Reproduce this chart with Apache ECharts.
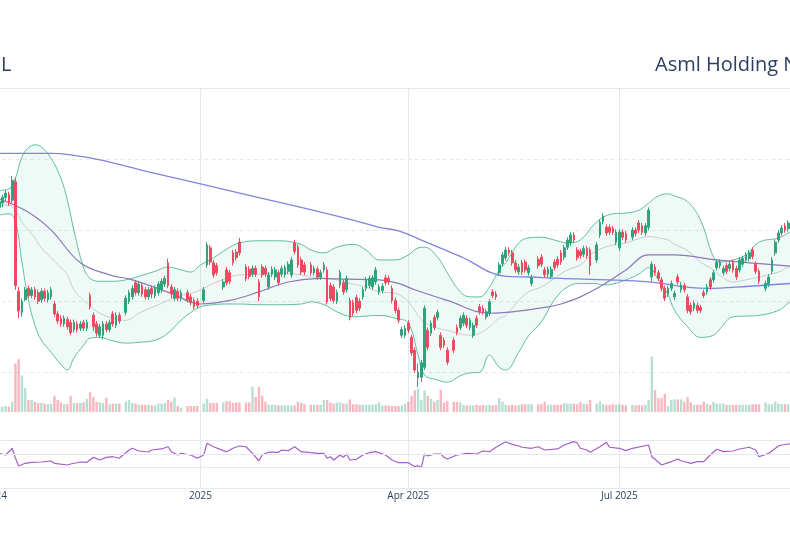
<!doctype html>
<html>
<head>
<meta charset="utf-8">
<script src="https://cdn.jsdelivr.net/npm/echarts@6/dist/echarts.min.js"></script>
<style>
html, body { margin: 0; padding: 0; background: #fff; }
#main { width: 790px; height: 550px; }
</style>
</head>
<body>
<div id="main"></div>
<script>
// trading calendar (weekends are removed from the axis, holidays leave a gap)
var axisStart = '2024-09-23', axisEnd = '2025-10-10';
var firstDay = '2024-10-07', lastDay = '2025-09-12';
var holidays = ['2024-11-28', '2024-12-25', '2025-01-01', '2025-01-09', '2025-01-20', '2025-02-17',
    '2025-04-18', '2025-05-26', '2025-06-19', '2025-07-04', '2025-09-01'];
var tickDates = ['2024-10-01', '2025-01-01', '2025-04-01', '2025-07-01', '2025-10-01'];
var monthNames = ['Jan', 'Feb', 'Mar', 'Apr', 'May', 'Jun', 'Jul', 'Aug', 'Sep', 'Oct', 'Nov', 'Dec'];

// daily [open, close, low, high], one row per trading day
var candles = [
    [832,840,826,846],[838,846,832,850],[846,852,840,856],[850,838,834,854],[842,870,838,876],
    [868,722,716,874],[714,686,676,720],[684,700,678,704],[702,716,700,720],[718,708,704,722],
    [708,716,704,720],[716,706,702,720],[712,700,696,716],[702,714,698,718],[714,704,700,718],
    [702,712,698,716],[706,716,702,720],[696,682,678,700],[682,672,668,686],[676,668,664,680],
    [668,676,664,680],[674,664,660,678],[670,656,652,674],[660,670,656,674],[668,660,656,672],
    [662,668,658,672],[670,662,658,674],[662,670,658,674],[708,692,688,712],[680,664,658,684],
    [668,655,650,672],[652,664,648,668],[652,668,646,672],[668,660,656,672],[660,670,656,674],
    [682,668,664,686],[666,680,662,684],[680,672,668,684],[684,704,680,708],
    [700,712,696,716],[706,718,702,722],[726,712,708,730],[712,724,708,728],[722,710,706,726],
    [716,706,702,720],[706,716,702,720],[718,710,704,722],[708,718,704,722],[712,724,708,728],
    [716,728,712,732],[724,732,720,736],[754,722,718,760],[720,710,704,724],[704,716,700,720],
    [714,704,700,718],[704,712,700,716],[712,702,698,716],[706,698,694,710],
    [701,692,688,705],[700,694,690,704],[701,716,697,720],[751,779,747,783],
    [775,755,751,779],[754,737,733,758],[750,740,736,754],[720,727,716,731],
    [744,726,722,748],[740,728,724,744],[768,754,750,772],[769,761,757,773],[783,768,764,789],
    [748,732,728,752],[745,735,731,749],[738,746,734,750],[746,738,734,750],
    [727,706,700,731],[748,737,733,752],[746,738,734,750],[720,737,716,741],[738,745,734,749],
    [734,744,730,748],[740,726,722,744],[738,746,734,750],[737,747,733,751],[742,752,738,756],
    [737,758,733,762],[782,770,766,786],[776,751,747,780],[758,741,737,762],[751,741,737,755],
    [751,740,736,755],[740,746,736,750],[745,734,730,749],[734,740,730,744],
    [744,751,740,755],[744,699,695,748],[722,704,700,726],[720,701,697,724],[700,712,696,716],
    [723,740,719,744],[726,713,709,730],[716,732,712,736],[701,677,673,705],[698,683,679,702],
    [705,687,683,709],[700,690,686,704],[706,716,702,720],[718,730,714,734],[722,732,718,736],
    [720,733,716,737],[727,744,723,748],[713,720,709,724],[715,721,711,725],[733,726,722,737],
    [732,727,723,736],[718,701,697,722],[701,687,683,705],[687,673,669,691],[652,660,648,664],
    [652,662,648,666],[669,659,655,673],[649,627,623,653],[631,603,599,635],[592,600,579,612],
    [593,613,586,617],[607,690,603,694],[659,635,631,663],[655,669,651,673],[677,663,659,681],
    [677,684,673,688],[652,635,631,656],[645,638,634,649],[631,614,610,635],
    [645,631,627,649],[663,656,652,667],[663,676,659,680],[669,680,665,684],[676,666,662,680],
    [663,673,659,677],[652,666,648,670],[676,666,662,680],[692,685,681,696],[690,685,681,694],
    [678,685,674,689],[683,699,679,703],[713,708,704,717],[710,706,702,714],[740,751,736,755],
    [753,765,749,769],[761,772,757,776],[772,768,764,776],[768,754,750,772],[754,744,740,758],
    [741,748,737,752],[754,741,737,758],[755,744,740,759],[740,747,736,751],[725,733,721,737],
    [759,750,746,763],[762,752,748,766],[744,737,733,748],[738,745,734,749],
    [735,745,731,749],[755,747,743,759],[759,751,747,763],[768,755,751,772],[762,775,758,779],
    [776,786,772,790],[782,793,778,797],[793,786,782,797],[772,761,757,776],[770,764,760,774],
    [766,774,762,778],[774,764,760,778],[772,750,737,776],[758,779,754,783],
    [793,811,789,815],[812,820,808,824],[804,796,792,808],[804,797,793,808],[803,797,793,806],
    [783,797,779,801],[775,797,771,801],[797,790,786,801],[795,786,782,799],
    [790,800,786,804],[800,795,791,804],[810,800,796,814],[806,797,793,810],[796,806,792,810],
    [804,828,800,832],[734,752,728,756],[748,740,736,752],[740,732,728,744],[730,718,714,734],
    [718,704,700,722],[710,718,706,722],[718,725,714,729],[706,711,702,715],[734,727,723,738],
    [716,723,712,727],[722,716,712,726],[706,687,683,710],[694,685,681,698],[690,697,686,701],
    [694,687,683,698],[691,687,683,695],[712,708,704,716],[713,720,709,724],[730,720,716,734],
    [730,740,726,744],[747,755,743,759],[750,755,746,759],[740,746,736,750],[750,742,738,754],
    [746,752,742,756],[754,744,740,758],[746,734,730,750],[744,758,740,762],[752,760,748,764],
    [758,765,754,769],[760,768,756,772],[772,763,759,776],[752,742,738,756],[742,728,724,746],
    [718,725,714,729],[724,734,720,738],[742,758,738,762],[768,783,764,787],
    [786,796,782,800],[796,803,792,807],[806,800,796,810],[802,810,798,814],[810,812,806,816]
];

// daily volume, millions of shares
var volume = [
    0.9,0.9,1.0,0.9,1.7, 8.1,8.8,6.1,4.0,2.0, 2.0,1.7,1.5,1.5,1.4, 1.3,1.3,2.7,2.0,1.6,
    1.3,1.3,2.7,1.5,1.5, 1.5,1.6,2.2,3.3,2.5, 1.7,1.6,1.5,2.4,1.3, 1.4,1.4,1.4,1.7,
    2.0,1.5,1.4,1.2,1.2, 1.2,1.2,1.1,1.1,1.4, 1.4,1.5,2.0,1.7,2.4, 1.0,0.7,1.0,1.0,
    1.0,1.0,1.4,2.2, 1.5,1.5,1.5,1.6, 1.8,1.8,1.5,1.6,1.6, 1.6,1.6,4.2,2.5,
    4.2,2.7,1.7,1.2,1.2, 1.2,1.1,1.1,1.1,1.1, 1.1,1.1,1.7,1.5,1.3, 1.2,1.2,1.2,1.2,
    2.0,2.0,1.6,1.4,1.6, 1.6,1.4,1.4,2.1,1.3, 1.3,1.2,1.2,1.2,1.2, 1.2,1.3,1.6,1.1,1.1,
    1.1,1.0,1.0,1.0,1.1, 1.4,1.7,2.7,3.6,3.9, 2.0,3.6,2.7,2.2,1.7, 2.0,3.7,1.6,1.8,
    1.7,1.7,1.6,1.2,1.1, 1.1,1.1,1.2,1.1,1.2, 1.1,1.2,1.1,1.2,2.3, 1.7,1.2,1.1,1.2,1.1,
    1.2,1.3,1.3,1.3,1.3, 1.3,1.3,1.7,1.2, 1.2,1.2,1.2,1.2,1.5, 1.4,1.4,1.4,1.3,1.7,
    1.4,1.3,2.0,1.4, 1.8,1.3,1.2,1.2,1.3, 1.2,1.3,1.2,1.1, 1.2,1.1,1.2,1.1,1.2,
    2.0,9.2,3.7,2.3,2.3, 3.0,1.0,2.0,2.1,2.1, 2.1,1.7,2.5,1.6,1.2, 1.2,1.2,1.7,1.4,1.2,
    1.7,1.4,1.4,1.4,1.2, 1.2,1.2,1.2,1.2,1.2, 1.2,1.2,1.3,1.3,1.3, 1.6,1.3,1.3,1.7,
    1.4,1.3,1.3,1.3,1.3
];

// Bollinger band (20 day) read at these dates
var bandDates = ['2024-10-07','2024-10-10','2024-10-14','2024-10-16','2024-10-18','2024-10-22','2024-10-24',
    '2024-10-29','2024-11-01','2024-11-05','2024-11-07','2024-11-12','2024-11-14','2024-11-19','2024-11-25',
    '2024-11-29','2024-12-05','2024-12-12','2024-12-18','2024-12-24','2024-12-27','2025-01-01','2025-01-07',
    '2025-01-13','2025-01-17','2025-01-27','2025-02-04','2025-02-13','2025-02-18','2025-02-24','2025-02-28',
    '2025-03-07','2025-03-13','2025-03-19','2025-03-26','2025-04-01','2025-04-04','2025-04-08','2025-04-14',
    '2025-04-17','2025-04-23','2025-04-28','2025-05-01','2025-05-06','2025-05-09','2025-05-13','2025-05-19',
    '2025-05-22','2025-05-28','2025-06-03','2025-06-09','2025-06-13','2025-06-19','2025-06-24','2025-06-27',
    '2025-07-03','2025-07-09','2025-07-14','2025-07-17','2025-07-22','2025-07-24','2025-07-30','2025-08-05',
    '2025-08-11','2025-08-13','2025-08-19','2025-08-25','2025-08-29','2025-09-08','2025-09-11','2025-09-12'];
var bbUpper = [856,858,873,903,916,920,917,901,873,842,800,747,732,728,728,730,735,742,748,744,741,751,761,
    773,782,785,785,780,772,768,776,780,772,758,758,765,775,776,762,740,713,706,706,720,744,754,782,789,790,
    786,782,786,807,818,823,824,828,838,848,851,848,840,814,762,755,758,765,783,789,796,799];
var bbMid = [835,835,828,811,800,789,775,761,747,737,716,701,693,683,676,673,683,693,701,708,711,716,725,
    732,737,738,740,737,734,732,730,724,720,713,711,699,680,670,662,659,654,652,655,664,676,680,701,713,720,
    732,744,751,768,775,779,782,788,791,789,786,780,771,755,744,736,727,730,734,741,748,749];
var bbLower = [821,823,812,755,702,666,645,628,611,603,620,638,648,649,644,641,642,645,655,673,684,692,695,
    696,696,695,695,696,699,695,685,678,679,680,676,669,624,596,589,586,595,599,600,624,607,603,628,651,671,
    702,720,725,725,723,724,730,738,747,730,709,687,664,649,652,661,678,679,680,687,697,700];

// moving averages
var sma50 = [['2024-10-07',844],['2024-10-18',825],['2024-10-29',800],['2024-11-11',754],['2024-11-22',737],
    ['2024-12-03',730],['2024-12-19',711],['2025-01-01',696],['2025-01-14',701],['2025-01-27',713],
    ['2025-02-07',727],['2025-02-21',732],['2025-03-05',731],['2025-03-19',730],['2025-03-27',725],
    ['2025-04-03',716],['2025-04-17',701],['2025-05-06',683],['2025-05-15',685],['2025-05-30',692],
    ['2025-06-05',696],['2025-06-13',706],['2025-06-24',723],['2025-07-03',744],['2025-07-14',765],
    ['2025-07-24',765],['2025-08-12',758],['2025-08-26',754],['2025-09-12',749]];
var sma200 = [['2024-10-07',908],['2024-10-29',908],['2024-11-06',906],['2024-11-19',899],['2024-12-10',882],
    ['2025-01-01',865],['2025-01-22',849],['2025-02-13',832],['2025-03-07',814],['2025-03-19',804],
    ['2025-03-27',799],['2025-04-07',786],['2025-04-23',763],['2025-05-13',735],['2025-05-22',734],
    ['2025-06-05',732],['2025-06-26',730],['2025-07-14',727],['2025-08-07',718],['2025-08-26',721],
    ['2025-09-12',725]];

// RSI (14)
var rsi = [['2024-10-07',51],['2024-10-09',48.5],['2024-10-11',58.4],['2024-10-14',44],['2024-10-15',32.4],
    ['2024-10-17',36.3],['2024-10-21',37.8],['2024-10-24',38.2],['2024-10-29',39.7],['2024-10-30',36.3],
    ['2024-11-05',33.8],['2024-11-06',35.3],['2024-11-11',38.2],['2024-11-13',37.8],['2024-11-15',45.1],
    ['2024-11-19',41.2],['2024-11-21',45.1],['2024-11-25',46],['2024-11-27',43.7],['2024-12-02',55.9],
    ['2024-12-03',58.4],['2024-12-05',54.4],['2024-12-10',52.9],['2024-12-11',55.9],['2024-12-16',57.4],
    ['2024-12-18',60.7],['2024-12-19',53.4],['2024-12-23',48.5],['2024-12-24',51],['2024-12-27',48.5],
    ['2024-12-31',43.7],['2025-01-02',48.5],['2025-01-03',65.7],['2025-01-07',60.7],['2025-01-10',54.9],
    ['2025-01-13',53.4],['2025-01-15',58.4],['2025-01-17',61.8],['2025-01-21',60.7],['2025-01-23',51],
    ['2025-01-27',40.1],['2025-01-28',48.5],['2025-01-30',52.9],['2025-02-04',52.5],['2025-02-05',55.9],
    ['2025-02-07',54.9],['2025-02-11',60.7],['2025-02-13',53.4],['2025-02-18',51.9],['2025-02-20',51],
    ['2025-02-24',51],['2025-02-25',43.7],['2025-02-26',46],['2025-02-27',41.2],['2025-03-03',48.5],
    ['2025-03-04',45.1],['2025-03-05',50],['2025-03-06',41.2],['2025-03-10',42.2],['2025-03-12',48.5],
    ['2025-03-14',51.9],['2025-03-18',53.4],['2025-03-21',48.5],['2025-03-25',41.2],['2025-03-27',37.2],
    ['2025-04-01',37.2],['2025-04-03',31.3],['2025-04-04',32.8],['2025-04-07',30.4],['2025-04-08',50],
    ['2025-04-09',47],['2025-04-11',50],['2025-04-15',50],['2025-04-16',45.1],['2025-04-17',42.6],
    ['2025-04-22',48.5],['2025-04-25',51],['2025-04-30',50],['2025-05-02',54.4],['2025-05-06',53.4],
    ['2025-05-08',59.9],['2025-05-13',68.1],['2025-05-14',65.7],['2025-05-19',61.8],['2025-05-20',59.9],
    ['2025-05-23',58.4],['2025-05-27',60.7],['2025-05-29',55.9],['2025-06-04',57.4],['2025-06-06',63.2],
    ['2025-06-11',68.1],['2025-06-12',66.6],['2025-06-13',58.4],['2025-06-17',55.9],['2025-06-18',52.5],
    ['2025-06-23',60.7],['2025-06-25',67.2],['2025-06-26',59.9],['2025-07-01',58.4],['2025-07-03',54.9],
    ['2025-07-07',58.4],['2025-07-14',63.2],['2025-07-15',46],['2025-07-16',42.2],['2025-07-18',33.8],
    ['2025-07-23',38.7],['2025-07-25',42.6],['2025-07-28',40.1],['2025-07-31',36.3],['2025-08-04',38.7],
    ['2025-08-06',38.7],['2025-08-08',48.5],['2025-08-12',56.9],['2025-08-14',53.4],['2025-08-19',54.4],
    ['2025-08-21',57.4],['2025-08-26',59.9],['2025-08-28',55.9],['2025-08-29',46],['2025-09-03',51],
    ['2025-09-08',61.8],['2025-09-09',63.2],['2025-09-11',64.7],['2025-09-12',65]];
var rsiLevels = [30, 50, 70];

function weekdays(a, b) {
    var out = [];
    var d = new Date(a + 'T00:00:00Z');
    var end = new Date(b + 'T00:00:00Z');
    while (d <= end) {
        var wd = d.getUTCDay();
        if (wd !== 0 && wd !== 6) out.push(d.toISOString().slice(0, 10));
        d.setUTCDate(d.getUTCDate() + 1);
    }
    return out;
}

var days = weekdays(axisStart, axisEnd);
var tradeDays = weekdays(firstDay, lastDay).filter(function (d) { return holidays.indexOf(d) < 0; });
console.log(tradeDays.length, candles.length, volume.length);

var up = '#2ea37c', down = '#ec4a5e';
var volUp = 'rgba(46,163,124,0.35)', volDown = 'rgba(236,74,94,0.4)';
var bandLine = '#5fbf9b', bandFill = 'rgba(76,187,150,0.13)';
var gridColor = '#e4e8ee';
var textColor = '#2a3f5f';

// 3.247 px per weekday, Jan 1 2025 at x = 200.5
var pxPerDay = 3.247;
var gridLeft = 200.5 - days.indexOf('2025-01-01') * pxPerDay;
var gridRight = 790 - gridLeft - (days.length - 1) * pxPerDay;

function isTick(i, d) { return tickDates.indexOf(d) >= 0; }
function tickLabel(d) {
    var m = +d.slice(5, 7);
    return m === 1 ? d.slice(0, 4) : monthNames[m - 1] + ' ' + d.slice(0, 4);
}
function grid(top, height) {
    return { left: gridLeft, right: gridRight, top: top, height: height, outerBoundsMode: 'none' };
}
function hiddenX(gi) {
    return { type: 'category', gridIndex: gi, data: days, boundaryGap: false, show: false };
}
function hiddenY(gi, min, max) {
    return { type: 'value', gridIndex: gi, min: min, max: max, show: false, splitLine: { show: false } };
}

var chart = echarts.init(document.getElementById('main'));

chart.setOption({
    animation: false,
    backgroundColor: '#fff',
    title: [{
        text: 'ASML', left: -45.5, top: 50,
        textStyle: { fontFamily: 'Open Sans', fontSize: 20, fontWeight: 'normal', color: textColor }
    }, {
        text: 'Asml Holding N.V.', left: 650, top: 50,
        textStyle: { fontFamily: 'Open Sans', fontSize: 20, fontWeight: 'normal', color: textColor }
    }],
    grid: [grid(88, 400), grid(88, 284), grid(88, 324), grid(340, 72), grid(420, 68)],
    xAxis: [{
        type: 'category', gridIndex: 0, data: days, boundaryGap: false,
        axisLine: { show: true, onZero: false, lineStyle: { color: gridColor } },
        axisTick: { show: false },
        axisLabel: {
            interval: isTick, formatter: tickLabel, margin: 3,
            color: textColor, fontFamily: 'Open Sans', fontSize: 10
        },
        splitLine: { show: true, interval: isTick, lineStyle: { color: gridColor, width: 1 } }
    }, {
        type: 'category', gridIndex: 1, data: days, boundaryGap: false, position: 'top',
        axisLine: { show: true, onZero: false, lineStyle: { color: gridColor } },
        axisTick: { show: false }, axisLabel: { show: false }, splitLine: { show: false }
    }, hiddenX(2), hiddenX(3), hiddenX(4)],
    yAxis: [hiddenY(0, 0, 1), {
        type: 'value', gridIndex: 1, min: 600, max: 1000, interval: 100,
        axisLine: { show: false }, axisTick: { show: false }, axisLabel: { show: false },
        splitLine: { show: true, lineStyle: { color: gridColor, type: [4, 3] } }
    }, hiddenY(2, 544, 1000), hiddenY(3, 0, 12), hiddenY(4, 0, 100)],
    series: [{
        name: 'BB lower', type: 'line', xAxisIndex: 2, yAxisIndex: 2, stack: 'bb',
        data: bandDates.map(function (d, i) { return [d, bbLower[i]]; }),
        smooth: 0.4, symbol: 'none', lineStyle: { color: bandLine, width: 1 }, z: 1
    }, {
        name: 'BB upper', type: 'line', xAxisIndex: 2, yAxisIndex: 2, stack: 'bb',
        data: bandDates.map(function (d, i) { return [d, bbUpper[i] - bbLower[i]]; }),
        smooth: 0.4, symbol: 'none', lineStyle: { color: bandLine, width: 1 },
        areaStyle: { color: bandFill }, z: 1
    }, {
        name: 'SMA 20', type: 'line', xAxisIndex: 2, yAxisIndex: 2,
        data: bandDates.map(function (d, i) { return [d, bbMid[i]]; }),
        smooth: 0.4, symbol: 'none', lineStyle: { color: '#c9cbd0', width: 1 }, z: 2
    }, {
        name: 'SMA 200', type: 'line', xAxisIndex: 2, yAxisIndex: 2, data: sma200,
        smooth: 0.4, symbol: 'none', lineStyle: { color: '#8084dc', width: 1.3 }, z: 2
    }, {
        name: 'SMA 50', type: 'line', xAxisIndex: 2, yAxisIndex: 2, data: sma50,
        smooth: 0.4, symbol: 'none', lineStyle: { color: '#8d78b8', width: 1.2 }, z: 2
    }, {
        name: 'ASML', type: 'candlestick', xAxisIndex: 2, yAxisIndex: 2,
        data: tradeDays.map(function (d, i) { return [d].concat(candles[i]); }),
        encode: { x: 0, y: [1, 2, 3, 4] },
        barWidth: 2.2,
        itemStyle: { color: up, color0: down, borderColor: up, borderColor0: down, borderWidth: 1 },
        z: 3
    }, {
        name: 'Volume', type: 'bar', xAxisIndex: 3, yAxisIndex: 3, barWidth: 2.4,
        data: tradeDays.map(function (d, i) {
            var c = candles[i];
            return { value: [d, volume[i]], itemStyle: { color: c[1] >= c[0] ? volUp : volDown } };
        }),
        z: 1
    }, {
        name: 'RSI', type: 'line', xAxisIndex: 4, yAxisIndex: 4, data: rsi,
        symbol: 'none', lineStyle: { color: '#a45fc6', width: 1.2 }, z: 3,
        markLine: {
            silent: true, symbol: 'none', label: { show: false },
            lineStyle: { color: gridColor, type: 'solid', width: 1 },
            data: rsiLevels.map(function (v) { return { yAxis: v }; })
        }
    }]
});

window.onresize = chart.resize;
</script>
</body>
</html>
